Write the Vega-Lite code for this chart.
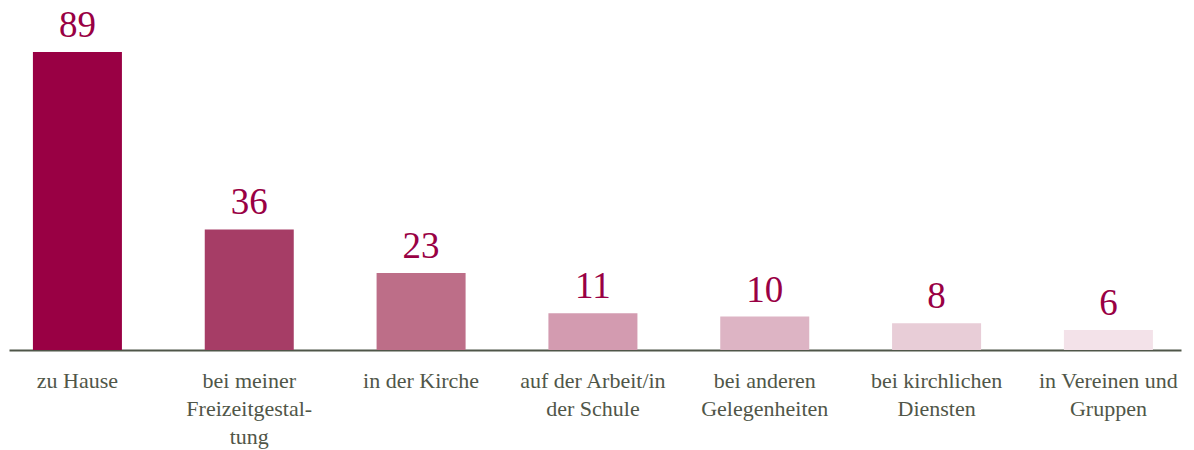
{
  "$schema": "https://vega.github.io/schema/vega-lite/v6.json",
  "width": 1172,
  "height": 298,
  "autosize": {"type": "none"},
  "padding": {"left": 9, "top": 52, "right": 13, "bottom": 100},
  "background": "#ffffff",
  "config": {"view": {"stroke": null}},
  "data": {
    "values": [
      {"kategorie": "zu Hause", "wert": 89},
      {"kategorie": "bei meiner|Freizeitgestal-|tung", "wert": 36},
      {"kategorie": "in der Kirche", "wert": 23},
      {"kategorie": "auf der Arbeit/in|der Schule", "wert": 11},
      {"kategorie": "bei anderen|Gelegenheiten", "wert": 10},
      {"kategorie": "bei kirchlichen|Diensten", "wert": 8},
      {"kategorie": "in Vereinen und|Gruppen", "wert": 6}
    ]
  },
  "encoding": {
    "x": {
      "field": "kategorie",
      "type": "nominal",
      "sort": null,
      "scale": {"paddingInner": 0.482, "paddingOuter": 0.1513, "align": 0.46},
      "axis": {
        "title": null,
        "labelAngle": 0,
        "ticks": false,
        "domainColor": "#4f5649",
        "domainWidth": 2,
        "labelFont": "Liberation Serif",
        "labelFontSize": 22,
        "labelColor": "#505648",
        "labelPadding": 20,
        "labelLineHeight": 28,
        "labelBaseline": "top",
        "labelExpr": "split(datum.label, '|')"
      }
    },
    "y": {
      "field": "wert",
      "type": "quantitative",
      "scale": {"domain": [0, 89], "nice": false},
      "axis": null
    }
  },
  "layer": [
    {
      "mark": {"type": "bar"},
      "encoding": {
        "color": {
          "field": "kategorie",
          "type": "nominal",
          "sort": null,
          "scale": {
            "domain": ["zu Hause", "bei meiner|Freizeitgestal-|tung", "in der Kirche", "auf der Arbeit/in|der Schule", "bei anderen|Gelegenheiten", "bei kirchlichen|Diensten", "in Vereinen und|Gruppen"],
            "range": ["#990044", "#a63d66", "#bd6e88", "#d39bb0", "#ddb4c4", "#e8cdd7", "#f3e2e9"]
          },
          "legend": null
        }
      }
    },
    {
      "mark": {
        "type": "text",
        "baseline": "alphabetic",
        "dy": -15,
        "font": "Liberation Serif",
        "fontSize": 37,
        "color": "#990044"
      },
      "encoding": {"text": {"field": "wert", "type": "quantitative"}}
    }
  ]
}
